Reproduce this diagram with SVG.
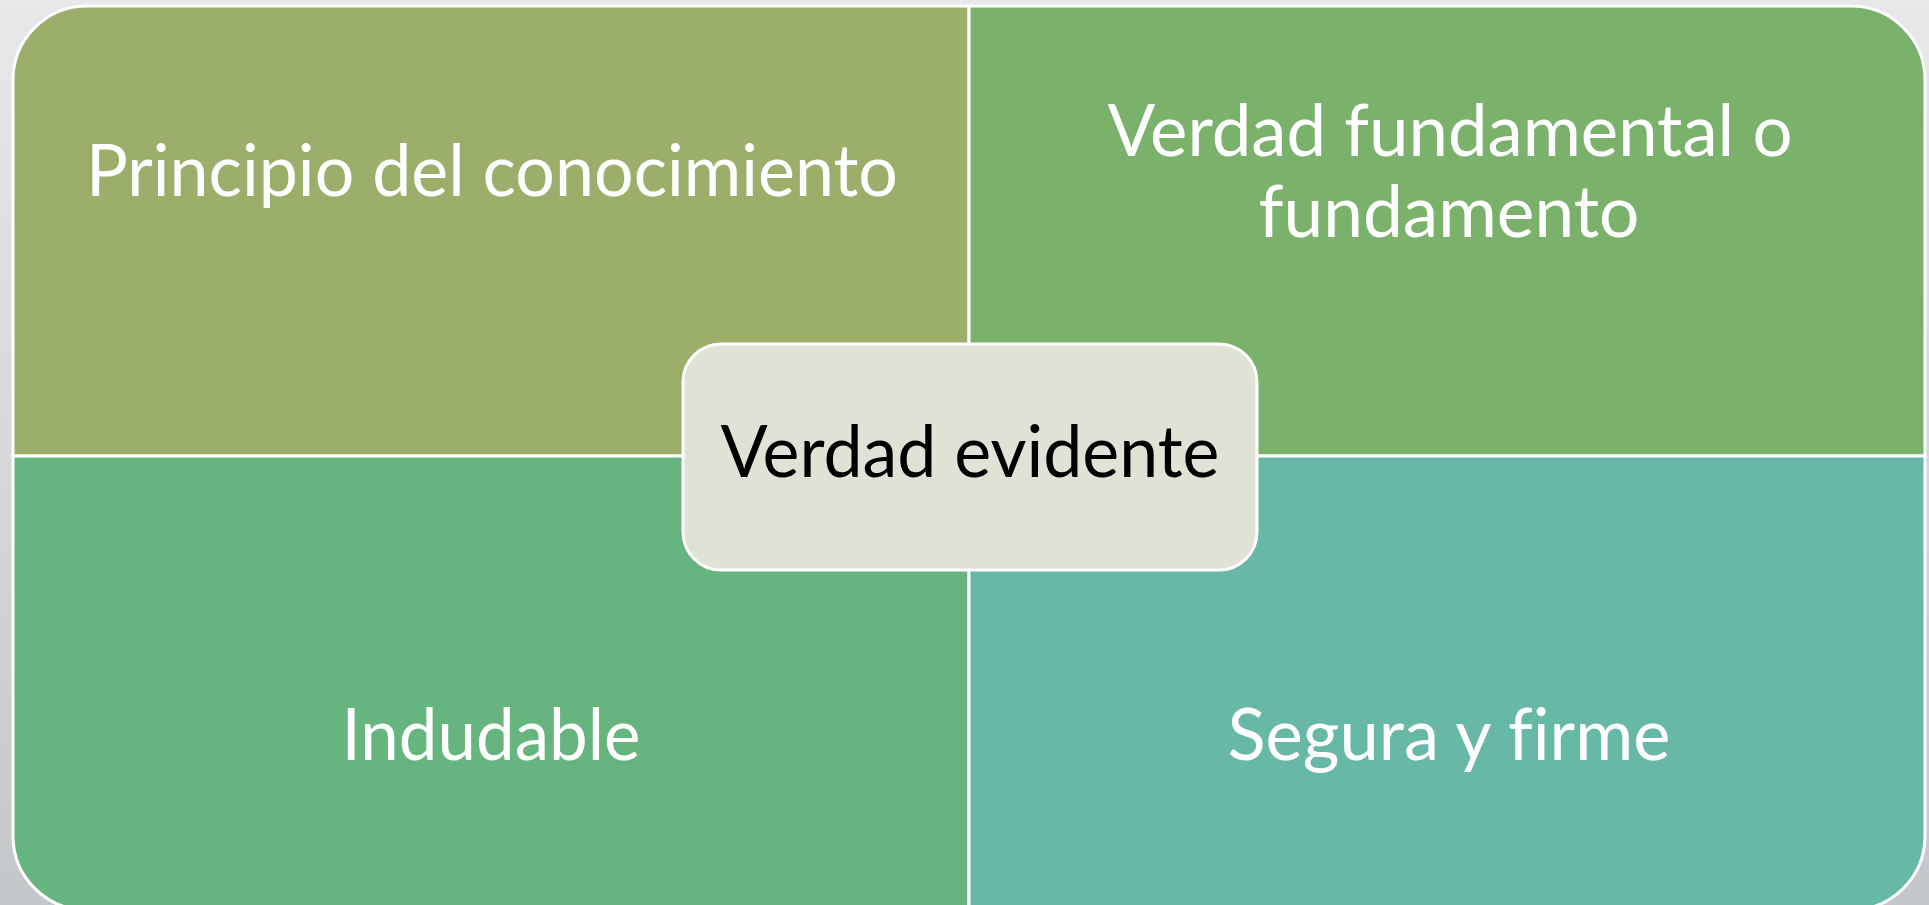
<svg xmlns="http://www.w3.org/2000/svg" width="1929" height="905" viewBox="0 0 1929 905">
<defs>
<linearGradient id="bg" x1="0" y1="0" x2="0" y2="1">
<stop offset="0" stop-color="#e7e8e9"/>
<stop offset="1" stop-color="#c4c7c9"/>
</linearGradient>
<style>
.q{stroke:#ffffff;stroke-width:3}
.t{font-family:Lato,"Open Sans","Liberation Sans",sans-serif;font-size:72px;fill:#ffffff;text-anchor:middle;font-variant-ligatures:none}
.c{font-family:Lato,"Open Sans","Liberation Sans",sans-serif;font-size:72px;fill:#000000;text-anchor:middle;font-variant-ligatures:none}
</style>
</defs>
<rect x="0" y="0" width="1929" height="905" fill="url(#bg)"/>
<g id="tl">
<path class="q" fill="#9caf6a" d="M13,456 L13,80 A74,74 0 0 1 87,6 L969,6 L969,456 Z"/>
<text class="t" x="492" y="196" textLength="812" lengthAdjust="spacingAndGlyphs">Principio del conocimiento</text>
</g>
<g id="tr">
<path class="q" fill="#7bb26b" d="M969,6 L1851,6 A74,74 0 0 1 1925,80 L1925,456 L969,456 Z"/>
<text class="t" x="1450" y="156" textLength="685" lengthAdjust="spacingAndGlyphs">Verdad fundamental o</text>
<text class="t" x="1449" y="237" textLength="381" lengthAdjust="spacingAndGlyphs">fundamento</text>
</g>
<g id="bl">
<path class="q" fill="#67b57e" d="M13,456 L969,456 L969,910 L87,910 A74,74 0 0 1 13,836 Z"/>
<text class="t" x="491" y="760" textLength="299" lengthAdjust="spacingAndGlyphs">Indudable</text>
</g>
<g id="br">
<path class="q" fill="#67b8a7" d="M969,456 L1925,456 L1925,836 A74,74 0 0 1 1851,910 L969,910 Z"/>
<text class="t" x="1449" y="760" textLength="443" lengthAdjust="spacingAndGlyphs">Segura y firme</text>
</g>
<g id="center">
<rect x="683" y="344" width="574" height="226" rx="38" ry="38" fill="#dfe3d5" stroke="#ffffff" stroke-width="3"/>
<text class="c" x="970" y="477" textLength="499" lengthAdjust="spacingAndGlyphs">Verdad evidente</text>
</g>
<g id="connectors"></g>
</svg>
